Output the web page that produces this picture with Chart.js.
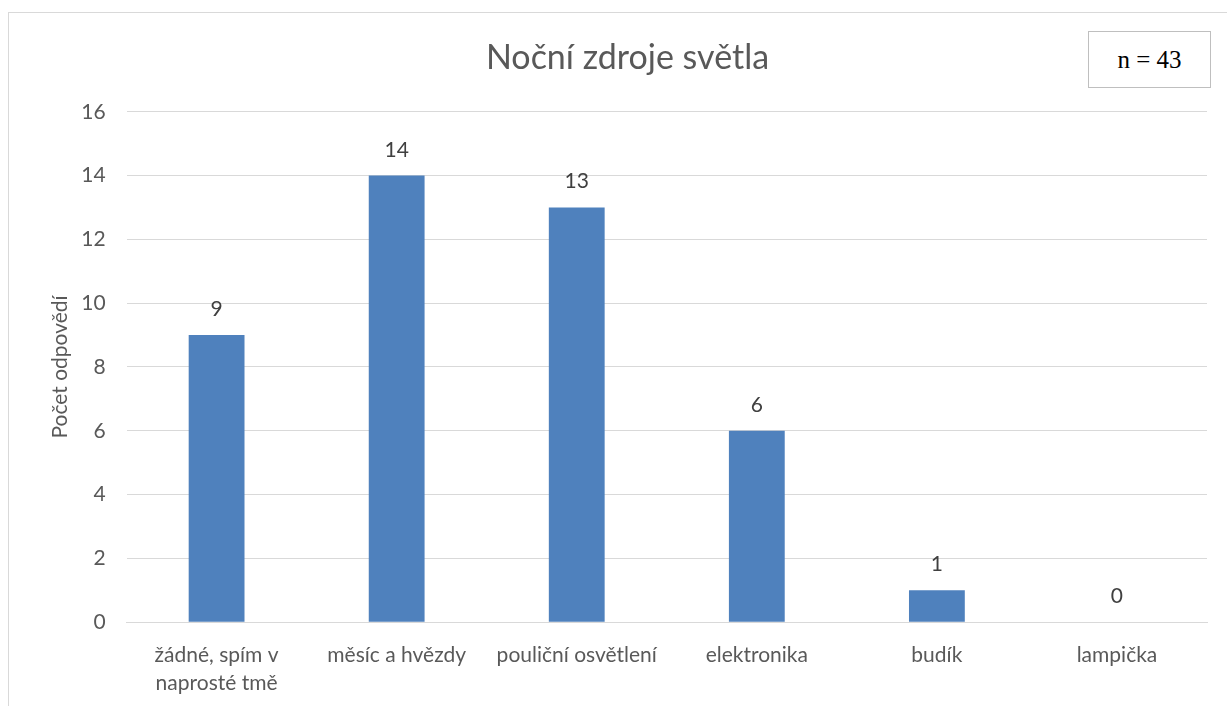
<!DOCTYPE html>
<html lang="cs">
<head>
<meta charset="utf-8">
<title>Noční zdroje světla</title>
<script src="https://cdn.jsdelivr.net/npm/chart.js@4"></script>
<style>
  html, body { margin: 0; padding: 0; background: #fff; overflow: hidden; }
  #frame {
    position: absolute; left: 8px; top: 12px; width: 1240px; height: 720px;
    border: 1px solid #d9d9d9; box-sizing: border-box;
  }
  #wrap { position: absolute; left: 0; top: 0; width: 1227px; height: 714px; }
  #nbox {
    position: absolute; left: 1088px; top: 31px; width: 123px; height: 57px;
    border: 1px solid #bfbfbf; box-sizing: border-box; background: #fff;
    font: 25px "Liberation Serif", "DejaVu Serif", serif; color: #000;
    display: flex; align-items: center; justify-content: center;
  }
</style>
</head>
<body>
<div id="frame"></div>
<div id="wrap"><canvas id="graf"></canvas></div>
<div id="nbox">n = 43</div>
<script>
(() => {
  'use strict'

  const kategorie = [
    ['žádné, spím v', 'naprosté tmě'],
    'měsíc a hvězdy',
    'pouliční osvětlení',
    'elektronika',
    'budík',
    'lampička'
  ]
  const pocty = [9, 14, 13, 6, 1, 0]
  const osaY = { min: 0, max: 16, krok: 2 }

  const pismo = 'Lato, "Noto Sans", sans-serif'
  const seda = '#595959'

  // popisky hodnot nad sloupci
  const popisky = {
    id: 'popisky',
    afterDatasetsDraw(chart) {
      const c = chart.ctx
      const meta = chart.getDatasetMeta(0)
      c.save()
      c.font = '21px ' + pismo
      c.fillStyle = '#404040'
      c.textAlign = 'center'
      c.textBaseline = 'alphabetic'
      meta.data.forEach((bar, i) => {
        c.fillText(String(pocty[i]), bar.x, bar.y - 19)
      })
      c.restore()
    }
  }

  new Chart(document.getElementById('graf'), {
    type: 'bar',
    data: {
      labels: kategorie,
      datasets: [{
        data: pocty,
        backgroundColor: '#4f81bd',
        barPercentage: 1,
        categoryPercentage: 0.31
      }]
    },
    plugins: [popisky],
    options: {
      responsive: true,
      maintainAspectRatio: false,
      animation: false,
      layout: { padding: { left: 48, right: 20, top: 21, bottom: 6 } },
      plugins: {
        legend: { display: false },
        tooltip: { enabled: false },
        title: {
          display: true,
          text: 'Noční zdroje světla',
          color: seda,
          font: { family: pismo, size: 34, weight: 'normal' },
          padding: { top: 17, bottom: 33 }
        }
      },
      scales: {
        x: {
          grid: { display: false },
          border: { color: '#d9d9d9' },
          ticks: {
            color: seda,
            font: { family: pismo, size: 21, lineHeight: 1.33 },
            maxRotation: 0,
            padding: 11
          }
        },
        y: {
          min: osaY.min,
          max: osaY.max,
          border: { display: false },
          grid: { color: '#d9d9d9', drawTicks: false },
          ticks: {
            stepSize: osaY.krok,
            color: seda,
            font: { family: pismo, size: 21 },
            padding: 21
          },
          title: {
            display: true,
            text: 'Počet odpovědí',
            color: seda,
            font: { family: pismo, size: 21 },
            padding: { top: 0, bottom: -13 }
          }
        }
      }
    }
  })
})()
</script>
</body>
</html>
